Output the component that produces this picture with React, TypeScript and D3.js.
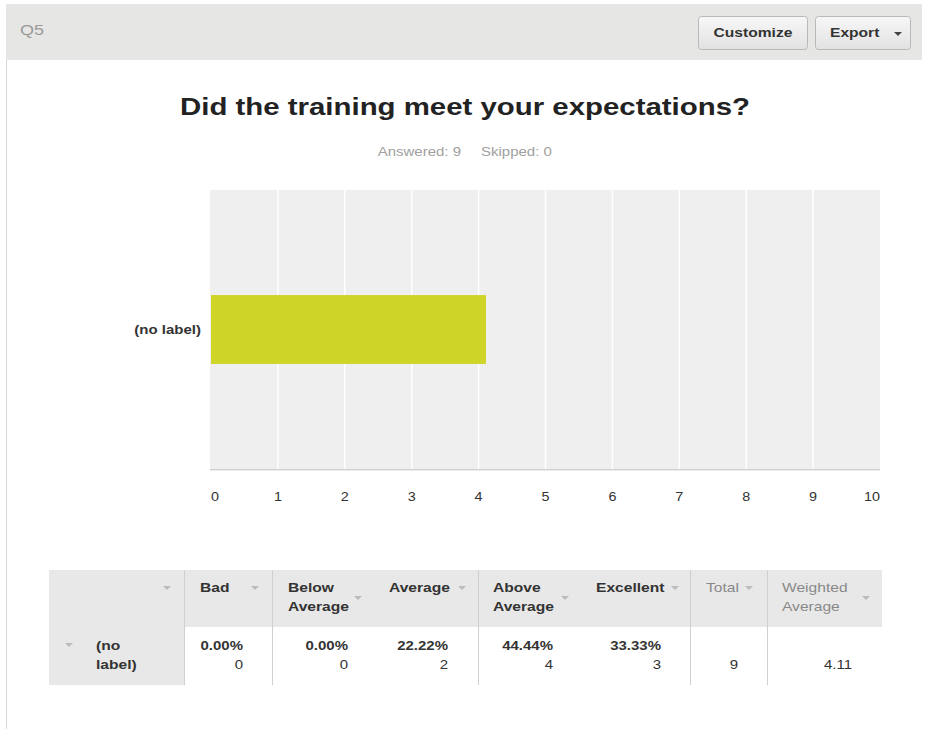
import React from "react";
import * as d3 from "d3";

// chart data
const rowLabels = ["(no label)"];
const weightedAverages = [4.11];
const axisMax = 10;

// table data
const categories = ["Bad", "Below Average", "Average", "Above Average", "Excellent"];
const percents = ["0.00%", "0.00%", "22.22%", "44.44%", "33.33%"];
const counts = [0, 0, 2, 4, 3];
const totals = [9];
const answered = 9;
const skipped = 0;

const FONT = "'Liberation Sans', Arial, sans-serif";
const SX = 1.2; // reference text is hinted wide, stretch glyphs horizontally

type TProps = {
  x: number; y: number; size?: number; bold?: boolean; fill?: string;
  anchor?: "start" | "middle" | "end"; children: React.ReactNode;
};
const T = ({ x, y, size = 13, bold = false, fill = "#333", anchor = "start", children }: TProps) => (
  <g transform={`translate(${x},${y}) scale(${SX},1)`}>
    <text fontSize={size} fontWeight={bold ? "bold" : "normal"} fill={fill} textAnchor={anchor}>{children}</text>
  </g>
);

const Caret = ({ x, y, color = "#bbb" }: { x: number; y: number; color?: string }) => (
  <path d={`M${x - 4},${y - 2} L${x + 4},${y - 2} L${x},${y + 2} Z`} fill={color} />
);

export default function App() {
  const plot = { left: 211, right: 880, top: 190, bottom: 469 };

  const x = d3.scaleLinear().domain([0, axisMax]).range([plot.left, plot.right]);
  const y = d3.scaleBand().domain(rowLabels).range([plot.top, plot.bottom]).padding(0.604);
  const ticks = x.ticks(10);

  // table layout
  const tTop = 570, tHead = 627, tBottom = 685, tLeft = 49, tRight = 882;
  const dividers = [184, 272, 478, 690, 767];
  const headerX = [200, 288, 389, 493, 596];
  const headerCaret = [255, 358, 462, 565, 675];
  const valueRight = [243, 348, 448, 553, 661];
  const twoLine = (s: string) => s.split(" ");

  return (
    <div style={{ position: "absolute", left: 0, top: 0 }}>
      <svg width={927} height={729} style={{ display: "block", fontFamily: FONT }}>
        <defs>
          <linearGradient id="btn" x1="0" x2="0" y1="0" y2="1">
            <stop offset="0" stopColor="#f7f7f7" />
            <stop offset="1" stopColor="#e2e2e2" />
          </linearGradient>
        </defs>
        <rect x={0} y={0} width={927} height={729} fill="#fff" />

        {/* panel header */}
        <rect x={6} y={4} width={916} height={56} fill="#e6e6e4" />
        <line x1={6.5} x2={6.5} y1={60} y2={729} stroke="#d8d8d8" />
        <T x={20} y={35} size={15} fill="#9a9a9a">Q5</T>

        <rect x={698.5} y={16.5} width={109} height={33} rx={3} fill="url(#btn)" stroke="#b8b8b8" />
        <T x={753} y={37} bold anchor="middle">Customize</T>
        <rect x={815.5} y={16.5} width={95} height={33} rx={3} fill="url(#btn)" stroke="#b8b8b8" />
        <T x={830} y={37} bold>Export</T>
        <Caret x={898} y={34} color="#444" />

        {/* title */}
        <text x={180} y={115} fontSize={24} fontWeight="bold" fill="#222"
          textLength={570} lengthAdjust="spacingAndGlyphs">
          Did the training meet your expectations?
        </text>
        <T x={461} y={156} size={12.5} fill="#a0a0a0" anchor="end">Answered: {answered}</T>
        <T x={481} y={156} size={12.5} fill="#a0a0a0">Skipped: {skipped}</T>

        {/* plot */}
        <rect x={plot.left - 1} y={plot.top} width={plot.right - plot.left + 1} height={plot.bottom - plot.top} fill="#efefef" />
        {ticks.slice(1, -1).map(t => (
          <line key={t} x1={x(t)} x2={x(t)} y1={plot.top} y2={plot.bottom} stroke="#fff" strokeWidth={1.5} />
        ))}
        <line x1={plot.left - 1} x2={plot.right} y1={plot.bottom + 0.5} y2={plot.bottom + 0.5} stroke="#cfcfcf" />
        <line x1={plot.left - 1} x2={plot.right} y1={plot.bottom + 1.5} y2={plot.bottom + 1.5} stroke="#ececec" />
        {rowLabels.map((r, i) => (
          <g key={r}>
            <rect x={x(0)} y={y(r)} width={x(weightedAverages[i]) - x(0)} height={y.bandwidth()} fill="#cfd429" />
            <T x={201} y={(y(r) as number) + y.bandwidth() / 2 + 4} size={12.5} bold anchor="end">{r}</T>
          </g>
        ))}
        {ticks.map((t, i) => (
          <T key={t} x={x(t)} y={501} size={12}
            anchor={i === 0 ? "start" : i === ticks.length - 1 ? "end" : "middle"}>
            {t}
          </T>
        ))}

        {/* table */}
        <rect x={tLeft} y={tTop} width={tRight - tLeft} height={tHead - tTop} fill="#e8e8e8" />
        <rect x={tLeft} y={tHead} width={dividers[0] - tLeft} height={tBottom - tHead} fill="#e8e8e8" />
        {dividers.map(d => (
          <line key={d} x1={d + 0.5} x2={d + 0.5} y1={tTop} y2={tBottom} stroke="#cfcfcf" />
        ))}
        <Caret x={167} y={588} />
        <Caret x={69} y={645} />
        <T x={96} y={650} bold>(no</T>
        <T x={96} y={669} bold>label)</T>

        {categories.map((c, i) => {
          const words = twoLine(c);
          const single = words.length === 1;
          return (
            <g key={c}>
              {single ? (
                <T x={headerX[i]} y={592} bold>{c}</T>
              ) : (
                <>
                  <T x={headerX[i]} y={592} bold>{words[0]}</T>
                  <T x={headerX[i]} y={611} bold>{words[1]}</T>
                </>
              )}
              <Caret x={headerCaret[i]} y={single ? 588 : 598} />
              <T x={valueRight[i]} y={650} size={12.5} bold anchor="end">{percents[i]}</T>
              <T x={valueRight[i]} y={669} size={12.5} anchor="end">{counts[i]}</T>
            </g>
          );
        })}

        <T x={706} y={592} fill="#888">Total</T>
        <Caret x={749} y={588} />
        <T x={738} y={669} size={12.5} anchor="end">{totals[0]}</T>

        <T x={782} y={592} fill="#888">Weighted</T>
        <T x={782} y={611} fill="#888">Average</T>
        <Caret x={866} y={598} />
        <T x={852} y={669} size={12.5} anchor="end">{weightedAverages[0].toFixed(2)}</T>
      </svg>
    </div>
  );
}
